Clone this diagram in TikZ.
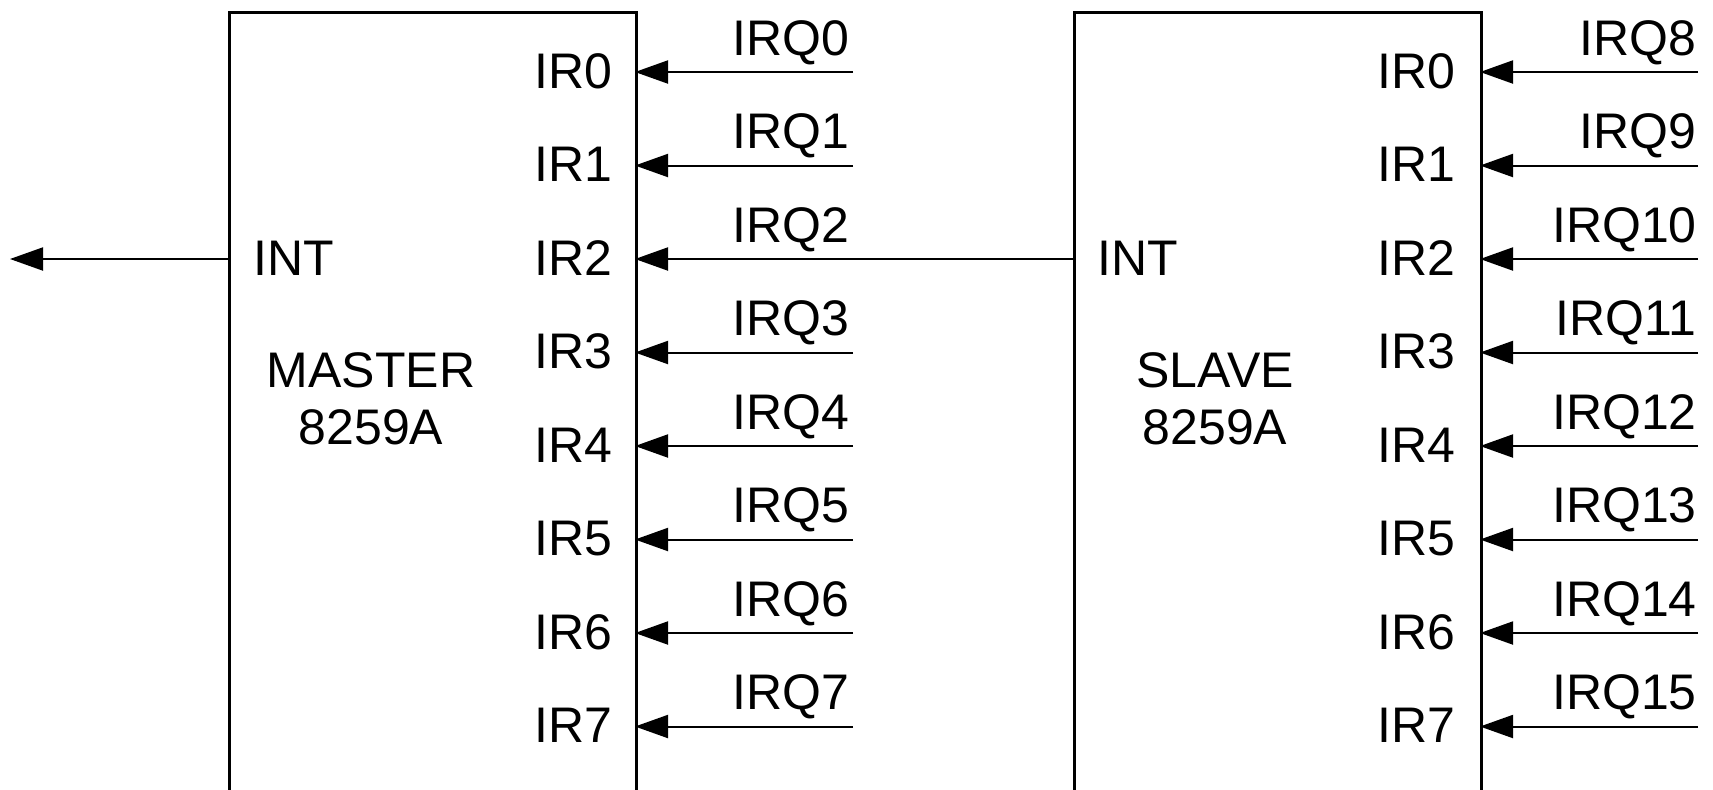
\documentclass[tikz,border=0pt]{standalone}
\usepackage{fontspec}
\setmainfont{Liberation Sans}
\usetikzlibrary{arrows.meta}
\newcommand\pinfont{\fontsize{25}{30}\selectfont}
\begin{document}
\begin{tikzpicture}[x=0.5pt,y=-0.5pt,
  chip/.style={draw, line width=1.3pt, rectangle, minimum width=203.5pt,
    minimum height=409.5pt, anchor=north west, inner sep=0pt},
  sig/.style={line width=1pt, -{Triangle[length=16.5pt,width=11.5pt]}},
  lbl/.style={inner sep=0pt, font=\pinfont},
  pinlbl/.style={lbl, anchor=base east},
  intlbl/.style={lbl, anchor=base west},
  namelbl/.style={lbl, anchor=base}]
  \clip (0,0) rectangle (1713,789);

  % the two 8259A chips (their lower edge runs past the sheet)
  \node[chip] (mbox) at (228,11) {};
  \node[chip] (sbox) at (1073,11) {};

  \node[namelbl] (mname) at (371,387) {MASTER};
  \node[namelbl] (mpart) at (371,444) {8259A};
  \node[namelbl] (sname) at (1215,387) {SLAVE};
  \node[namelbl] (spart) at (1215,444) {8259A};

  % INT pins
  \coordinate (m-int) at (228,259);
  \coordinate (s-int) at (1073,259);
  \coordinate (cpu) at (10,259);
  \node[intlbl] (m-intlbl) at (253,275) {INT};
  \node[intlbl] (s-intlbl) at (1097,275) {INT};
  \draw[sig] (m-int) -- (cpu);

  % IR inputs
  \foreach \i in {0,...,7} {
    \pgfmathsetmacro\ry{72+93.5*\i}
    \pgfmathtruncatemacro\irq{\i+8}
    \coordinate (m-ir\i) at (635,\ry);
    \coordinate (s-ir\i) at (1480,\ry);
    \node[pinlbl] (m-lbl\i) at (613,\ry+16) {IR\i};
    \node[pinlbl] (s-lbl\i) at (1456,\ry+16) {IR\i};
    \node[pinlbl] (m-irq\i) at (850,\ry-17) {IRQ\i};
    \node[pinlbl] (s-irq\i) at (1697,\ry-17) {IRQ\irq};
    \coordinate (s-src\i) at (1698,\ry);
    \draw[sig] (s-src\i) -- (s-ir\i);
  }
  \foreach \i in {0,1,3,4,5,6,7} {
    \pgfmathsetmacro\ry{72+93.5*\i}
    \coordinate (m-src\i) at (853,\ry);
    \draw[sig] (m-src\i) -- (m-ir\i);
  }
  % slave cascades into master IR2
  \draw[sig] (s-int) -- (m-ir2);
\end{tikzpicture}
\end{document}
